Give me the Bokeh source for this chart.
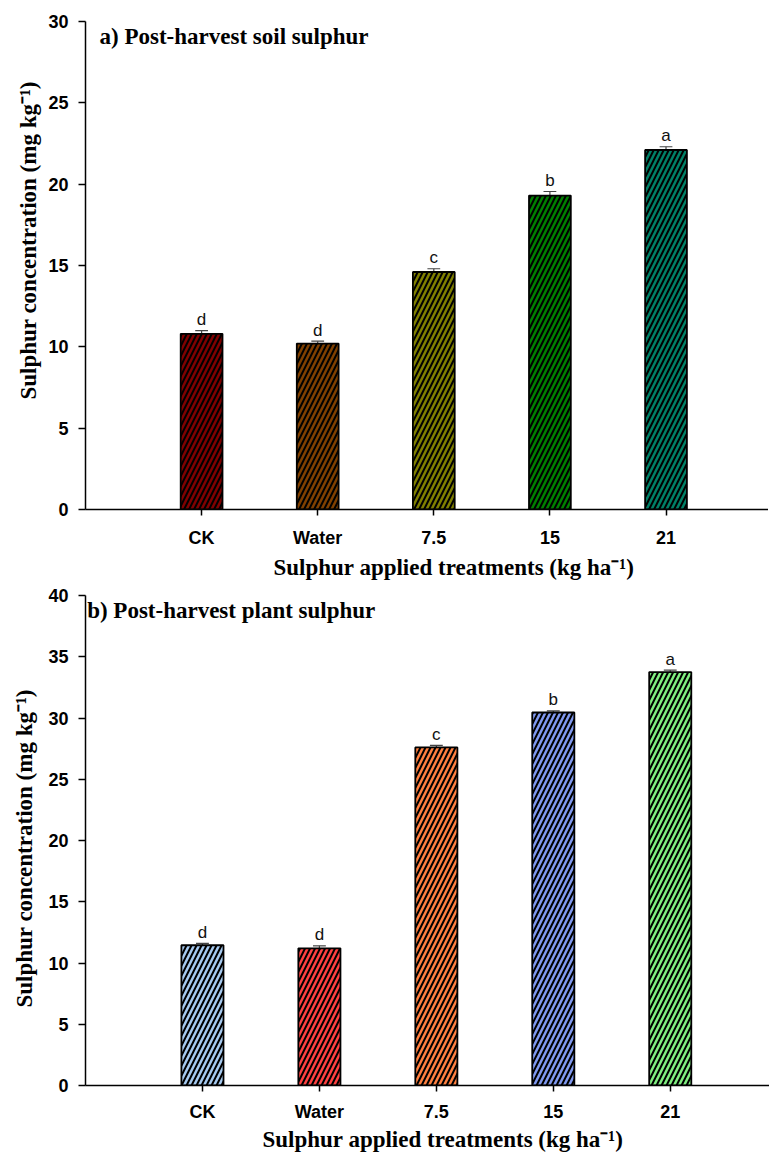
import math
from bokeh.plotting import figure
from bokeh.models import FixedTicker, Label, ColumnDataSource, Range1d, Title
from bokeh.layouts import column
from bokeh.embed import file_html
from bokeh.resources import INLINE
from bokeh.core.properties import value

# ---------------- data ----------------
categories = ["CK", "Water", "7.5", "15", "21"]

soil_s = [10.8, 10.2, 14.6, 19.3, 22.1]
soil_se = [0.2, 0.15, 0.2, 0.25, 0.2]
soil_letters = ["d", "d", "c", "b", "a"]
soil_colors = ["#800000", "#804000", "#808000", "#008000", "#008066"]

plant_s = [11.45, 11.2, 27.6, 30.45, 33.75]
plant_se = [0.15, 0.2, 0.17, 0.13, 0.16]
plant_letters = ["d", "d", "c", "b", "a"]
plant_colors = ["#a6caf0", "#ff4040", "#ff8040", "#8099f0", "#80f080"]

soil_yticks = [0, 5, 10, 15, 20, 25, 30]
plant_yticks = [0, 5, 10, 15, 20, 25, 30, 35, 40]

SERIF = "Liberation Serif"
SANS = "Liberation Sans"
XTITLE = "Sulphur applied treatments (kg ha\u207b\u00b9)"
YTITLE = "Sulphur concentration (mg kg\u207b\u00b9)"
X_END = 5.9


def panel(vals, errs, letters, colors, yticks, title, fw, fh, bl, bt, bb,
          title_pos, xt_offset, xt_standoff, xl_standoff, yt_offset,
          yt_standoff):
    xs = [i + 1 for i in range(len(categories))]
    hi = [v + e for v, e in zip(vals, errs)]
    px_per_unit = fh / (yticks[-1] - yticks[0])
    src = ColumnDataSource(dict(
        x=xs, top=vals, hi=hi, letter=letters, color=colors,
        ly=[h + 1.5 / px_per_unit for h in hi],
        cl=[x - 0.055 for x in xs], cr=[x + 0.055 for x in xs]))
    p = figure(frame_width=fw, frame_height=fh, output_backend="svg",
               toolbar_location=None, x_range=Range1d(0, X_END),
               y_range=Range1d(yticks[0], yticks[-1]),
               min_border_left=bl, min_border_right=0,
               min_border_top=bt, min_border_bottom=bb)
    p.outline_line_color = None
    p.xgrid.visible = False
    p.ygrid.visible = False
    p.background_fill_color = "white"
    p.border_fill_color = "white"

    p.segment(x0="x", y0="top", x1="x", y1="hi", line_color="#444444",
              line_width=1.2, source=src)
    p.segment(x0="cl", y0="hi", x1="cr", y1="hi", line_color="#444444",
              line_width=1.2, source=src)
    p.vbar(x="x", top="top", bottom=0, width=0.36, fill_color="color",
           line_color="black", line_width=1.8, hatch_pattern="/",
           hatch_color="black", hatch_scale=10, hatch_weight=2.0, source=src)
    p.text(x="x", y="ly", text="letter", text_font=value(SANS),
           text_font_size="17px", text_align="center",
           text_baseline="bottom", text_color="#111111", source=src)

    for ax in (p.xaxis[0], p.yaxis[0]):
        ax.axis_line_width = 1.5
        ax.axis_line_color = "black"
        ax.major_tick_line_width = 1.5
        ax.major_tick_line_color = "black"
        ax.minor_tick_line_color = None
        ax.major_tick_in = 0
        ax.major_label_text_font = SANS
        ax.major_label_text_font_style = "bold"
        ax.major_label_text_font_size = "18px"
        ax.major_label_text_color = "black"
    p.xaxis.ticker = FixedTicker(ticks=xs)
    p.xaxis.major_label_overrides = {x: c for x, c in zip(xs, categories)}
    p.xaxis.major_tick_out = 6
    p.xaxis.major_label_standoff = xl_standoff
    p.yaxis.ticker = FixedTicker(ticks=yticks)
    p.yaxis.major_tick_out = 7
    p.yaxis.major_label_standoff = 10

    p.add_layout(Label(x=title_pos[0], y=title_pos[1], text=title,
                       text_font=SERIF, text_font_style="bold",
                       text_font_size="23px", text_align="left",
                       text_baseline="alphabetic", text_color="black"))
    p.add_layout(Title(text=XTITLE, align="left", offset=xt_offset,
                       standoff=xt_standoff, text_font=SERIF,
                       text_font_style="bold", text_font_size="23px",
                       text_color="black"), "below")
    p.add_layout(Title(text=YTITLE, align="left", offset=yt_offset,
                       standoff=yt_standoff, text_font=SERIF,
                       text_font_style="bold", text_font_size="23px",
                       text_color="black"), "left")
    return p


p1 = panel(soil_s, soil_se, soil_letters, soil_colors, soil_yticks,
           "a) Post-harvest soil sulphur", 685, 488, 83, 21, 71,
           (0.121, 29.08), 188, 4, 12, 110, 10)
p2 = panel(plant_s, plant_se, plant_letters, plant_colors, plant_yticks,
           "b) Post-harvest plant sulphur", 690, 490, 78, 14, 68,
           (0.014, 38.77), 177, 1, 10, 78, 18)

layout = column(p1, p2, spacing=0)
open("out.html", "w").write(file_html(layout, INLINE))
